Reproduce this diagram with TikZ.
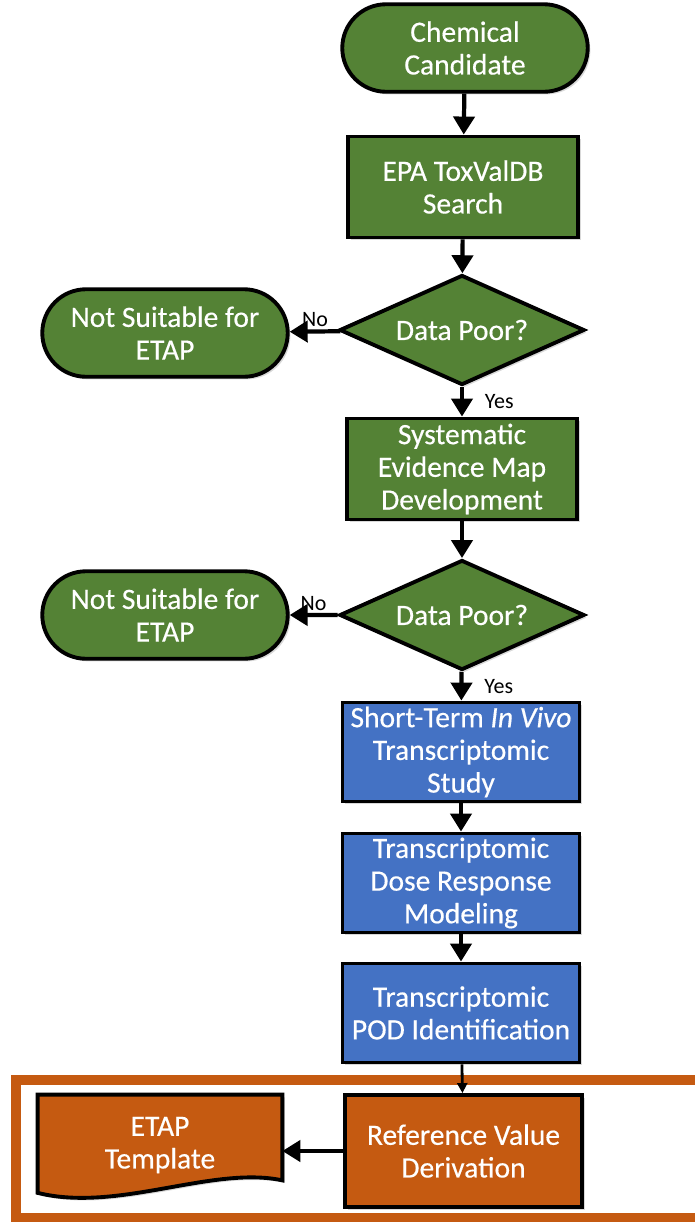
\documentclass[tikz,border=0pt]{standalone}
\usepackage{fontspec}
\setmainfont{Carlito}
\newfontfamily\boxfont[FakeBold=0.4]{Carlito}
\usepackage{tikz}
\usetikzlibrary{arrows.meta, shapes.geometric, shapes.misc, positioning, calc, backgrounds, shadows}
\usepackage{xcolor}
\definecolor{stepgreen}{HTML}{548235}
\definecolor{stepblue}{HTML}{4472C4}
\definecolor{steporange}{HTML}{C55A11}

\begin{document}
\begin{tikzpicture}[
    base/.style={draw=black, line width=2.2pt, text=white, align=center, inner sep=2pt,
        font=\boxfont\fontsize{16.8}{18.6}\selectfont,
        drop shadow={shadow xshift=1.5pt, shadow yshift=-1.5pt, opacity=0.3}},
    terminal/.style={base, rounded rectangle, fill=stepgreen, minimum width=5.05cm, minimum height=1.75cm},
    greenbox/.style={base, rectangle, fill=stepgreen, minimum width=4.6cm, minimum height=2.02cm},
    bluebox/.style={base, rectangle, fill=stepblue, minimum width=4.74cm, minimum height=1.98cm},
    decision/.style={base, diamond, aspect=2.2, fill=stepgreen, minimum width=4.9cm, minimum height=2.2cm, inner sep=0pt},
    orangebox/.style={base, rectangle, fill=steporange, minimum width=4.74cm, minimum height=2.24cm},
    answer/.style={font=\fontsize{12.5}{14}\selectfont, text=black},
    line/.style={-{Triangle[width=0.42cm, length=0.36cm]}, line width=2.4pt}]
\useasboundingbox (0,0) rectangle (13.88,-24.5);
% green part
\node[terminal] (cand) at (9.3,-0.96) {Chemical\\Candidate};
\node[greenbox] (search) at (9.26,-3.74) {EPA ToxValDB\\Search};
\node[decision] (poor1) at (9.24,-6.6) {Data Poor?};
\node[terminal] (nosuit1) at (3.3,-6.66) {Not Suitable for\\ETAP};
\node[greenbox] (evid) at (9.24,-9.38) {Systematic\\Evidence Map\\Development};
\node[decision] (poor2) at (9.24,-12.3) {Data Poor?};
\node[terminal] (nosuit2) at (3.3,-12.3) {Not Suitable for\\ETAP};
% blue part
\node[bluebox] (study) at (9.22,-15.04) {Short-Term \textit{In Vivo}\\Transcriptomic\\Study};
\node[bluebox] (model) at (9.22,-17.66) {Transcriptomic\\Dose Response\\Modeling};
\node[bluebox] (pod) at (9.22,-20.26) {Transcriptomic\\POD Identification};
% orange part
\draw[steporange, line width=5.5pt] (0.32,-21.6) rectangle (14.4,-24.35);
\node[orangebox] (refval) at (9.27,-23.02) {Reference Value\\Derivation};
\node[text=white, align=center, font=\boxfont\fontsize{16.8}{18.6}\selectfont, minimum width=4.88cm, minimum height=2.0cm] (tmpl) at (3.2,-22.9) {ETAP\\Template};
\begin{scope}[on background layer]
\draw[draw=black, line width=2.2pt, fill=steporange, drop shadow={shadow xshift=1.5pt, shadow yshift=-1.5pt, opacity=0.3}]
    (tmpl.north west) -- (tmpl.north east) -- ([yshift=0.3cm]tmpl.south east)
    .. controls ([xshift=-1.4cm, yshift=0.6cm]tmpl.south east) and ([xshift=1.6cm, yshift=-0.35cm]tmpl.south west)
    .. ([yshift=0.05cm]tmpl.south west) -- cycle;
\end{scope}
% connectors
\draw[line] (cand) -- (search); \draw[line] (search) -- (poor1);
\draw[line] (poor1) -- node[answer, above, yshift=-2pt] {No} (nosuit1);
\draw[line] (poor1) -- node[answer, right, xshift=0.3cm] {Yes} (evid);
\draw[line] (evid) -- (poor2);
\draw[line] (poor2) -- node[answer, above, yshift=-2pt] {No} (nosuit2);
\draw[line] (poor2) -- node[answer, right, xshift=0.3cm] {Yes} (study);
\draw[line] (study) -- (model); \draw[line] (model) -- (pod);
\draw[-{Triangle[width=0.2cm, length=0.2cm]}, line width=1.6pt] (pod) -- (refval);
\draw[line] (refval.west) -- (refval.west -| tmpl.east);
\end{tikzpicture}
\end{document}
